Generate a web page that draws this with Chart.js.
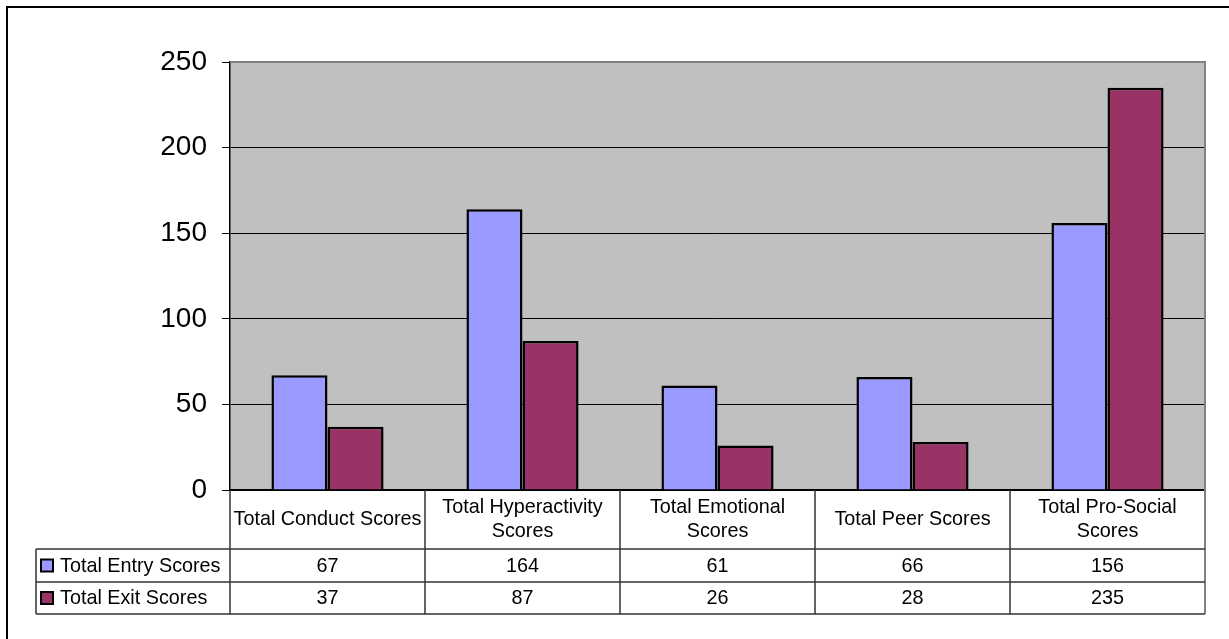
<!DOCTYPE html>
<html>
<head>
<meta charset="utf-8">
<script src="https://cdn.jsdelivr.net/npm/chart.js@4"></script>
<style>
html,body{margin:0;padding:0;background:#fff;}
#wrap{position:relative;width:1229px;height:639px;}
</style>
</head>
<body>
<div id="wrap"><canvas id="c" width="1229" height="639"></canvas></div>
<script>
const categories = [
  ["Total Conduct Scores"],
  ["Total Hyperactivity", "Scores"],
  ["Total Emotional", "Scores"],
  ["Total Peer Scores"],
  ["Total Pro-Social", "Scores"]
];
const seriesNames = ["Total Entry Scores", "Total Exit Scores"];
const entryScores = [67, 164, 61, 66, 156];
const exitScores = [37, 87, 26, 28, 235];
const yTicks = [0, 50, 100, 150, 200, 250];

const FONT = "'Liberation Sans', Arial, sans-serif";

const tablePlugin = {
  id: 'tablePlugin',
  beforeDraw(chart) {
    const ctx = chart.ctx, a = chart.chartArea;
    ctx.save();
    ctx.fillStyle = '#C0C0C0';
    ctx.fillRect(a.left, a.top, a.right - a.left, a.bottom - a.top);
    ctx.restore();
  },
  afterDraw(chart) {
    const ctx = chart.ctx, a = chart.chartArea, x = chart.scales.x;
    const n = chart.data.labels.length;
    const cw = (a.right - a.left) / n;
    const headerBottom = a.bottom + 59;
    const row1Bottom = headerBottom + 33;
    const row2Bottom = row1Bottom + 32;
    const tableLeft = 36;
    ctx.save();
    ctx.strokeStyle = '#808080';
    ctx.lineWidth = 2;
    ctx.beginPath();
    ctx.moveTo(a.left, a.top);
    ctx.lineTo(a.right, a.top);
    ctx.lineTo(a.right, row2Bottom);
    ctx.stroke();
    ctx.strokeStyle = '#000';
    ctx.lineWidth = 2;
    ctx.beginPath();
    ctx.moveTo(7, 639);
    ctx.lineTo(7, 7);
    ctx.lineTo(1229, 7);
    ctx.stroke();
    ctx.strokeStyle = '#333';
    ctx.lineWidth = 1.5;
    ctx.beginPath();
    [headerBottom, row1Bottom, row2Bottom].forEach(yy => {
      ctx.moveTo(tableLeft, yy); ctx.lineTo(a.right, yy);
    });
    for (let i = 0; i < n; i++) {
      const cx = x.getPixelForValue(i);
      const l = cx - cw / 2;
      ctx.moveTo(l, a.bottom); ctx.lineTo(l, row2Bottom);
    }
    ctx.moveTo(tableLeft, headerBottom); ctx.lineTo(tableLeft, row2Bottom);
    ctx.stroke();
    ctx.fillStyle = '#000';
    ctx.font = '19.8px ' + FONT;
    ctx.textAlign = 'center';
    ctx.textBaseline = 'middle';
    const hc = (a.bottom + headerBottom) / 2;
    chart.data.labels.forEach((lab, i) => {
      const cx = x.getPixelForValue(i);
      const lines = Array.isArray(lab) ? lab : [lab];
      const lh = 24;
      const start = hc - (lines.length - 1) * lh / 2;
      lines.forEach((t, k) => ctx.fillText(t, cx, start + k * lh));
    });
    const rowCenters = [(headerBottom + row1Bottom) / 2, (row1Bottom + row2Bottom) / 2];
    chart.data.datasets.forEach((ds, r) => {
      const yy = rowCenters[r];
      ds.data.forEach((v, i) => {
        ctx.textAlign = 'center';
        ctx.fillText(String(v), x.getPixelForValue(i), yy + 1);
      });
      ctx.fillStyle = ds.backgroundColor;
      ctx.fillRect(41, yy - 6, 12, 12);
      ctx.strokeStyle = '#000';
      ctx.lineWidth = 2;
      ctx.strokeRect(41, yy - 6, 12, 12);
      ctx.fillStyle = '#000';
      ctx.textAlign = 'left';
      ctx.fillText(ds.label, 60, yy + 1);
    });
    ctx.restore();
  }
};

new Chart(document.getElementById('c'), {
  type: 'bar',
  data: {
    labels: categories,
    datasets: [
      { label: seriesNames[0], data: entryScores, backgroundColor: '#9999FF', borderColor: '#000', borderWidth: 2.5,
        categoryPercentage: 0.575, barPercentage: 1.0 },
      { label: seriesNames[1], data: exitScores, backgroundColor: '#993366', borderColor: '#000', borderWidth: 2.5,
        categoryPercentage: 0.575, barPercentage: 1.0 }
    ]
  },
  options: {
    responsive: false,
    animation: false,
    devicePixelRatio: 1,
    layout: { padding: { left: 0, top: 62, right: 24, bottom: 90 } },
    plugins: { legend: { display: false }, tooltip: { enabled: false }, title: { display: false } },
    scales: {
      x: {
        grid: { display: false },
        border: { display: true, color: '#000', width: 1.5 },
        ticks: { display: false },
        afterFit(s) { s.height = 59; }
      },
      y: {
        min: 0, max: 250,
        afterBuildTicks(s) { s.ticks = yTicks.map(v => ({ value: v })); },
        grid: { color: '#000', lineWidth: 1, tickLength: 8, tickColor: '#000' },
        border: { display: true, color: '#000', width: 1.5 },
        ticks: { color: '#000', font: { family: FONT, size: 28 }, padding: 15 },
        afterFit(s) { s.width = 230; }
      }
    }
  },
  plugins: [tablePlugin]
});
</script>
</body>
</html>
